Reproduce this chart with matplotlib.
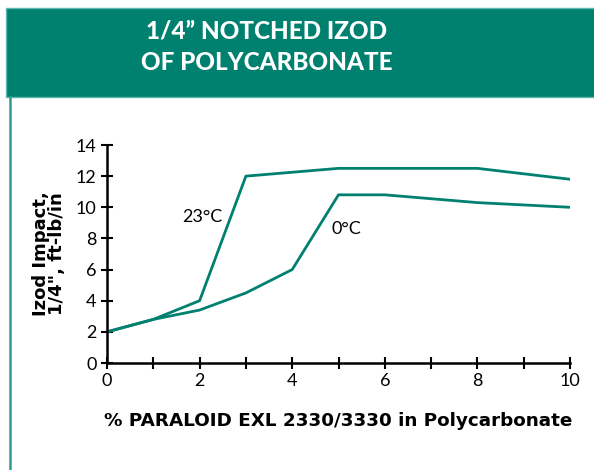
import matplotlib.pyplot as plt
from matplotlib.patches import Rectangle
from matplotlib.lines import Line2D

# data
x_23 = [0, 1, 2, 3, 5, 8, 10]
y_23 = [2.0, 2.8, 4.0, 12.0, 12.5, 12.5, 11.8]
x_0 = [0, 1, 2, 3, 4, 5, 6, 8, 10]
y_0 = [2.0, 2.8, 3.4, 4.5, 6.0, 10.8, 10.8, 10.3, 10.0]
x_ticks = [0, 2, 4, 6, 8, 10]
y_ticks = [0, 2, 4, 6, 8, 10, 12, 14]

teal = "#00806f"
plt.rcParams['font.family'] = ['Lato', 'DejaVu Sans']

fig = plt.figure(figsize=(5.94, 4.70), dpi=100)
W, H = 594, 470

# header band
fig.patches.append(Rectangle((6 / W, 1 - 97 / H), 1, 89 / H, transform=fig.transFigure,
                             facecolor=teal, edgecolor="#5fb8ae", linewidth=1))
fig.lines.append(Line2D([9.5 / W, 9.5 / W], [0, 1 - 97 / H], transform=fig.transFigure,
                        color="#2e9a90", linewidth=1.8))
fig.text(267 / W, 1 - 31 / H, "1/4\u201d NOTCHED IZOD", color="white", fontsize=17.5,
         fontweight="black", ha="center", va="center")
fig.text(267 / W, 1 - 62 / H, "OF POLYCARBONATE", color="white", fontsize=17.5,
         fontweight="black", ha="center", va="center")

ax = fig.add_axes([107 / W, 1 - 363 / H, 463 / W, 218 / H])
ax.plot(x_23, y_23, color=teal, linewidth=2)
ax.plot(x_0, y_0, color=teal, linewidth=2)
ax.text(2.5, 9.4, "23\u00b0C", fontsize=13, ha="right", va="center")
ax.text(4.85, 8.6, "0\u00b0C", fontsize=13, ha="left", va="center")

ax.set_xlim(0, 10)
ax.set_ylim(0, 14)
ax.set_xticks(x_ticks)
ax.set_xticks(range(0, 11), minor=True)
ax.set_yticks(y_ticks)
for s in ["top", "right"]:
    ax.spines[s].set_visible(False)
for s in ["left", "bottom"]:
    ax.spines[s].set_linewidth(1.8)
ax.tick_params(which="both", direction="inout", length=9, width=1.5, labelsize=13, pad=3)
ax.patch.set_alpha(0)

ax.set_ylabel("Izod Impact,\n1/4\", ft-lb/in", fontsize=13, fontweight="bold",
              family="DejaVu Sans", linespacing=0.85, labelpad=7)
ax.set_xlabel("% PARALOID EXL 2330/3330 in Polycarbonate", fontsize=13.2,
              fontweight="bold", family="DejaVu Sans", labelpad=16)

fig.savefig("out.png", dpi=100)
